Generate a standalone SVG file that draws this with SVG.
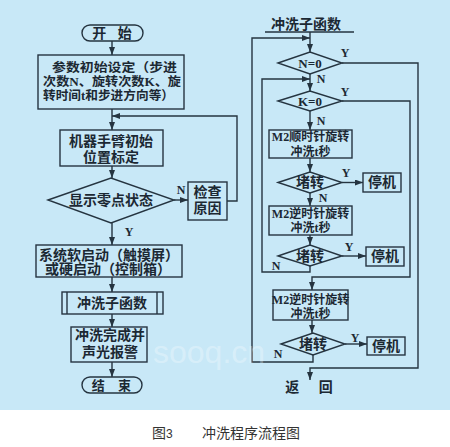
<svg xmlns="http://www.w3.org/2000/svg" width="450" height="447" viewBox="0 0 450 447">
<defs>
<marker id="ah" markerUnits="userSpaceOnUse" markerWidth="8" markerHeight="6" refX="8" refY="3" orient="auto">
<path d="M0,0 L8,3 L0,6 z" fill="#253440"/>
</marker>
<style>
.ln{stroke:#253440;stroke-width:1.4;fill:none}
.ar{stroke:#253440;stroke-width:1.4;fill:none;marker-end:url(#ah)}
.bx{fill:none;stroke:#253440;stroke-width:1.4}
.t{font-family:"Liberation Serif","Noto Sans CJK SC",serif;font-weight:bold;font-size:14px;fill:#1c2833;text-anchor:middle}
.s{font-size:12px}
.p{font-size:12.5px;text-anchor:start}
.l{font-family:"Liberation Serif",serif;font-weight:bold;font-size:12px;fill:#1c2833;text-anchor:middle}
.cap{font-family:"Liberation Sans","Noto Sans CJK SC",sans-serif;font-size:14px;fill:#333}
</style>
</defs>
<rect x="0" y="0" width="450" height="447" fill="#ffffff"/>
<rect x="0" y="0" width="450" height="410" fill="#c8e8f7"/>

<g id="connectors">
<line class="ar" x1="112" y1="41" x2="112" y2="55"/>
<line class="ar" x1="112" y1="109" x2="112" y2="130"/>
<polyline class="ar" points="227,201 237,201 237,116 112,116"/>
<line class="ar" x1="112" y1="166" x2="112" y2="178"/>
<line class="ar" x1="174" y1="200" x2="188" y2="200"/>
<line class="ar" x1="112" y1="223" x2="112" y2="245"/>
<line class="ar" x1="112" y1="277" x2="112" y2="292"/>
<line class="ar" x1="112" y1="314" x2="112" y2="327"/>
<line class="ar" x1="112" y1="362" x2="112" y2="377"/>

<line class="ln" x1="265" y1="32" x2="354" y2="32"/>
<line class="ar" x1="310" y1="32" x2="310" y2="52"/>
<polyline class="ar" points="342,63 418,63 418,368 310,368 310,380"/>
<line class="ar" x1="310" y1="74" x2="310" y2="91"/>
<polyline class="ar" points="310,266 310,272 262,272 262,79 310,79"/>
<polyline class="ar" points="313,355 313,362 252,362 252,38 310,38"/>
<polyline class="ar" points="342,101 410,101 410,277 312,277 312,290"/>
<line class="ar" x1="310" y1="111" x2="310" y2="130"/>
<line class="ar" x1="310" y1="158" x2="310" y2="172"/>
<line class="ar" x1="342" y1="182.5" x2="363" y2="182.5"/>
<line class="ar" x1="310" y1="193" x2="310" y2="206"/>
<line class="ar" x1="310" y1="235" x2="310" y2="245"/>
<line class="ar" x1="342" y1="256" x2="366" y2="256"/>
<line class="ar" x1="312" y1="320" x2="312" y2="333"/>
<line class="ar" x1="345" y1="344" x2="367" y2="344"/>

<text class="l" x="181" y="194">N</text>
<text class="l" x="129" y="236">Y</text>
<text class="l" x="345" y="57">Y</text>
<text class="l" x="321" y="83">N</text>
<text class="l" x="345" y="96">Y</text>
<text class="l" x="321" y="125">N</text>
<text class="l" x="346" y="177">Y</text>
<text class="l" x="323" y="202">N</text>
<text class="l" x="349" y="251">Y</text>
<text class="l" x="276" y="270">N</text>
<text class="l" x="355" y="342">Y</text>
<text class="l" x="278" y="358">N</text>
</g>

<g id="start">
<rect class="bx" x="82" y="25" width="61" height="16" rx="8"/>
<text class="t" x="114" y="38" letter-spacing="4">开 始</text>
</g>
<g id="init">
<rect class="bx" x="38" y="55" width="146" height="54"/>
<text class="t p" x="52" y="72" textLength="125" lengthAdjust="spacingAndGlyphs">参数初始设定（步进</text>
<text class="t p" x="43" y="86" textLength="138" lengthAdjust="spacingAndGlyphs">次数N、旋转次数K、旋</text>
<text class="t p" x="43" y="100" textLength="131" lengthAdjust="spacingAndGlyphs">转时间t和步进方向等）</text>
</g>
<g id="calib">
<rect class="bx" x="60" y="130" width="103" height="36"/>
<text class="t" x="111" y="146">机器手臂初始</text>
<text class="t" x="111" y="162">位置标定</text>
</g>
<g id="zero">
<polygon class="bx" points="48,200 111,178 174,200 111,223"/>
<text class="t" x="111" y="205">显示零点状态</text>
</g>
<g id="check">
<rect class="bx" x="188" y="182" width="39" height="38"/>
<text class="t" x="207.5" y="197">检查</text>
<text class="t" x="207.5" y="213">原因</text>
</g>
<g id="startup">
<rect class="bx" x="36" y="245" width="146" height="32"/>
<text class="t" x="109" y="260">系统软启动（触摸屏）</text>
<text class="t" x="108" y="274">或硬启动（控制箱）</text>
</g>
<g id="subfunc">
<rect class="bx" x="62" y="292" width="101" height="22"/>
<line class="ln" x1="67" y1="292" x2="67" y2="314"/>
<line class="ln" x1="157" y1="292" x2="157" y2="314"/>
<text class="t" x="112" y="308">冲洗子函数</text>
</g>
<g id="done">
<rect class="bx" x="71" y="327" width="76" height="35"/>
<text class="t" x="110" y="340">冲洗完成并</text>
<text class="t" x="110" y="357">声光报警</text>
</g>
<g id="end">
<rect class="bx" x="82" y="377" width="60" height="16" rx="8"/>
<text class="t" x="114" y="390" style="font-size:13px" letter-spacing="5">结 束</text>
</g>

<g id="title">
<text class="t" x="306" y="29">冲洗子函数</text>
</g>
<g id="n0">
<polygon class="bx" points="278,63 310,52 342,63 310,74"/>
<text class="l" x="310" y="68" style="font-size:13px">N=0</text>
</g>
<g id="k0">
<polygon class="bx" points="278,101 310,91 342,101 310,111"/>
<text class="l" x="310" y="106" style="font-size:13px">K=0</text>
</g>
<g id="cw">
<rect class="bx" x="269" y="130" width="83" height="28"/>
<text class="t s" x="310.5" y="141">M2顺时针旋转</text>
<text class="t s" x="310.5" y="156">冲洗t秒</text>
</g>
<g id="stall1">
<polygon class="bx" points="278,182.5 310,172 342,182.5 310,193"/>
<text class="t" x="310" y="187">堵转</text>
</g>
<g id="stop1">
<rect class="bx" x="363" y="173" width="38" height="19"/>
<text class="t" x="382" y="187">停机</text>
</g>
<g id="ccw1">
<rect class="bx" x="269" y="206" width="83" height="29"/>
<text class="t s" x="310.5" y="218">M2逆时针旋转</text>
<text class="t s" x="310.5" y="232">冲洗t秒</text>
</g>
<g id="stall2">
<polygon class="bx" points="278,256 310,245 342,256 310,266"/>
<text class="t" x="310" y="261">堵转</text>
</g>
<g id="stop2">
<rect class="bx" x="366" y="247" width="38" height="19"/>
<text class="t" x="385" y="261">停机</text>
</g>
<g id="ccw2">
<rect class="bx" x="273" y="290" width="75" height="30"/>
<text class="t s" x="310.5" y="304">M2逆时针旋转</text>
<text class="t s" x="310.5" y="318">冲洗t秒</text>
</g>
<g id="stall3">
<polygon class="bx" points="281,344 313,333 345,344 313,355"/>
<text class="t" x="313" y="349">堵转</text>
</g>
<g id="stop3">
<rect class="bx" x="367" y="337" width="38" height="18"/>
<text class="t" x="386" y="351">停机</text>
</g>
<g id="ret">
<text class="t" x="313" y="392" letter-spacing="8">返 回</text>
</g>

<text x="153" y="363" font-family="Liberation Sans, sans-serif" font-size="32" fill="#ffffff" fill-opacity="0.3">sooq.cn</text>

<g id="caption">
<text class="cap" x="152" y="438">图<tspan font-size="12">3</tspan></text>
<text class="cap" x="202" y="438">冲洗程序流程图</text>
</g>
</svg>
